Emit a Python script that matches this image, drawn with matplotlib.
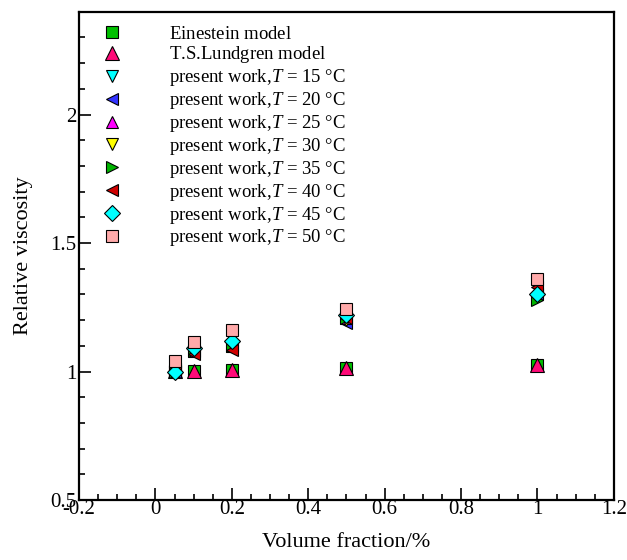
import matplotlib
matplotlib.use("Agg")
import matplotlib.pyplot as plt
from matplotlib.ticker import MultipleLocator

plt.rcParams["font.family"] = ["Liberation Serif", "DejaVu Serif"]
plt.rcParams["mathtext.fontset"] = "custom"
plt.rcParams["mathtext.rm"] = "Liberation Serif"
plt.rcParams["mathtext.it"] = "Liberation Serif:italic"

# volume fraction (%)
phi = [0.05, 0.1, 0.2, 0.5, 1.0]

einstein = [1.0013, 1.0025, 1.005, 1.0125, 1.025]
lundgren = [1.0013, 1.0025, 1.0051, 1.0127, 1.0257]

temps = [15, 20, 25, 30, 35, 40, 45, 50]
visc_15 = [1.01, 1.10, 1.13, 1.22, 1.33]
visc_20 = [1.00, 1.08, 1.10, 1.19, 1.30]
visc_25 = [1.01, 1.08, 1.10, 1.21, 1.32]
visc_30 = [1.01, 1.08, 1.10, 1.20, 1.33]
visc_35 = [1.00, 1.08, 1.10, 1.21, 1.28]
visc_40 = [1.01, 1.07, 1.085, 1.21, 1.33]
visc_45 = [1.00, 1.09, 1.12, 1.22, 1.30]
visc_50 = [1.04, 1.115, 1.16, 1.245, 1.36]
present = [visc_15, visc_20, visc_25, visc_30, visc_35, visc_40, visc_45, visc_50]

markers = ["v", "<", "^", "v", ">", "<", "D", "s"]
colours = ["#00ffff", "#3333ff", "#ff00ff", "#ffff00", "#00b400", "#d00000", "#00ffff", "#ffaaaa"]
sizes = [9, 9, 9, 9, 9, 9, 8.5, 9]

fig = plt.figure(figsize=(6.27, 5.6), dpi=100)
ax = fig.add_axes([0.126, 0.107, 0.853, 0.872])

mk = dict(linestyle="none", markeredgecolor="black", markeredgewidth=0.8)
# trailing "$\,$" puts every label through mathtext so legend rows share one height
ax.plot(phi, einstein, marker="s", color="#00c000", markersize=8.5,
        label=r"Einestein model$\,$", **mk)
ax.plot(phi, lundgren, marker="^", color="#ff0a78", markersize=9.5,
        label=r"T.S.Lundgren model$\,$", **mk)
for t, vals, m, c, s in zip(temps, present, markers, colours, sizes):
    ax.plot(phi, vals, marker=m, color=c, markersize=s,
            label=f"present work,$T$ = {t} °C", **mk)

ax.set_xlim(-0.2, 1.2)
ax.set_ylim(0.5, 2.4)
ax.xaxis.set_minor_locator(MultipleLocator(0.05))
ax.yaxis.set_minor_locator(MultipleLocator(0.1))
ax.set_xticks([-0.2, 0, 0.2, 0.4, 0.6, 0.8, 1, 1.2])
ax.set_xticklabels(["-0.2", "0", "0.2", "0.4", "0.6", "0.8", "1", "1.2"])
ax.set_yticks([0.5, 1, 1.5, 2])
ax.set_yticklabels(["0.5", "1", "1.5", "2"])
ax.tick_params(which="both", direction="in", top=False, right=False, labelsize=15, width=1.2)
ax.tick_params(axis="x", which="major", length=8.5, pad=0)
ax.tick_params(axis="y", which="major", length=8.5, pad=2)
ax.tick_params(which="minor", length=4.5)
for sp in ax.spines.values():
    sp.set_linewidth(1.6)

ax.set_xlabel("Volume fraction/%", fontsize=16, labelpad=10)
ax.set_ylabel("Relative viscosity", fontsize=16, labelpad=12)

ax.legend(loc="upper left", bbox_to_anchor=(0.006, 0.995), frameon=False, fontsize=13.5,
          handlelength=2.0, handletextpad=2.05, labelspacing=0.1, borderaxespad=0.2)

fig.savefig("out.png", dpi=100)
